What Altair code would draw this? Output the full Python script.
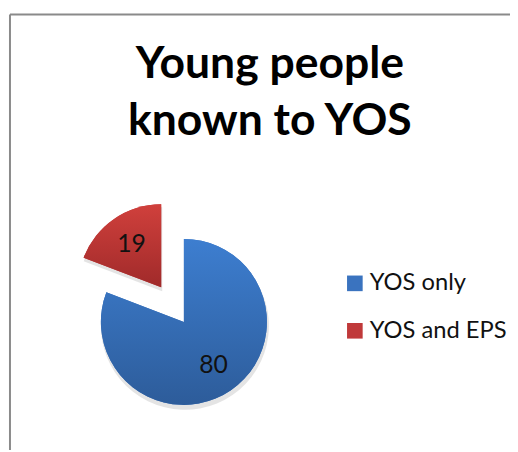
import altair as alt
import pandas as pd

categories = ["YOS only", "YOS and EPS"]
values = [80, 19]
title_lines = ["Young people", "known to YOS"]

df = pd.DataFrame({"category": categories, "value": values})

W, H = 506, 438
CX, CY = 176, 311
R = 84

base = alt.Chart(df).transform_window(
    end="sum(value)", frame=[None, 0]
).transform_calculate(
    start="datum.end - datum.value", mid="datum.end - datum.value/2"
)

theta_scale = alt.Scale(domain=[0, sum(values)])
color_scale = alt.Scale(domain=categories, range=["#3a73bf", "#c0393a"])

blue_grad = alt.LinearGradient(gradient="linear", x1=0, y1=0, x2=0, y2=1,
    stops=[alt.GradientStop(color="#3d7ed0", offset=0), alt.GradientStop(color="#2d5c9a", offset=1)])
red_grad = alt.LinearGradient(gradient="linear", x1=0, y1=0, x2=0, y2=1,
    stops=[alt.GradientStop(color="#d0403c", offset=0), alt.GradientStop(color="#a02a2a", offset=1)])

legend = alt.Legend(title=None, orient="none", legendX=337, legendY=260,
                    symbolType="square", symbolSize=250, symbolStrokeWidth=0,
                    labelFont="Lato", labelFontSize=24, labelColor="#111111",
                    labelOffset=3, rowPadding=24, symbolOpacity=1)

def shadow_layer(cat, dx, dy):
    return base.transform_filter(alt.datum.category == cat).mark_arc(
        outerRadius=R + 1, x=CX + dx + 1, y=CY + dy + 4, fill="#c4c4c4", opacity=0.45
    ).encode(theta=alt.Theta("start:Q", scale=theta_scale), theta2="end:Q")

def solid_layer(cat, dx, dy):
    return base.transform_filter(alt.datum.category == cat).mark_arc(
        outerRadius=R, x=CX + dx, y=CY + dy
    ).encode(
        theta=alt.Theta("start:Q", scale=theta_scale),
        theta2="end:Q",
        color=alt.Color("category:N", scale=color_scale, sort=categories, legend=legend),
    )

def grad_layer(cat, grad, dx, dy):
    return base.transform_filter(alt.datum.category == cat).mark_arc(
        outerRadius=R, x=CX + dx, y=CY + dy, fill=grad
    ).encode(theta=alt.Theta("start:Q", scale=theta_scale), theta2="end:Q")

def label_layer(cat, dx, dy):
    return base.transform_filter(alt.datum.category == cat).mark_text(
        radius=53, x=CX + dx, y=CY + dy, font="Lato", fontSize=25, color="#111111"
    ).encode(theta=alt.Theta("mid:Q", scale=theta_scale), text="value:Q")

rules = alt.Chart(pd.DataFrame({"a": [0]})).mark_rule(color="#8a8a8a", strokeWidth=2).encode(
    x=alt.value(0), x2=alt.value(W + 20), y=alt.value(0)
) + alt.Chart(pd.DataFrame({"a": [0]})).mark_rule(color="#8a8a8a", strokeWidth=2).encode(
    x=alt.value(0), y=alt.value(0), y2=alt.value(H + 20)
)

RDX, RDY = -23, -35

chart = alt.layer(
    rules,
    shadow_layer("YOS only", 0, 0),
    shadow_layer("YOS and EPS", RDX, RDY),
    solid_layer("YOS only", 0, 0),
    solid_layer("YOS and EPS", RDX, RDY),
    grad_layer("YOS only", blue_grad, 0, 0),
    grad_layer("YOS and EPS", red_grad, RDX, RDY),
    label_layer("YOS only", 0, 0),
    label_layer("YOS and EPS", RDX, RDY),
).properties(
    width=W, height=H,
    padding={"left": 2, "top": 4, "right": 0, "bottom": 0},
    autosize=alt.AutoSizeParams(type="none"),
    title=alt.TitleParams(text=title_lines, font="Lato", fontSize=45, fontWeight="bold",
                          color="#000000", anchor="middle", baseline="alphabetic",
                          orient="top", offset=-66, dy=102, lineHeight=58, dx=10),
).configure_view(stroke=None)

chart.save("out.html", embed_options={"renderer": "svg", "actions": False})
